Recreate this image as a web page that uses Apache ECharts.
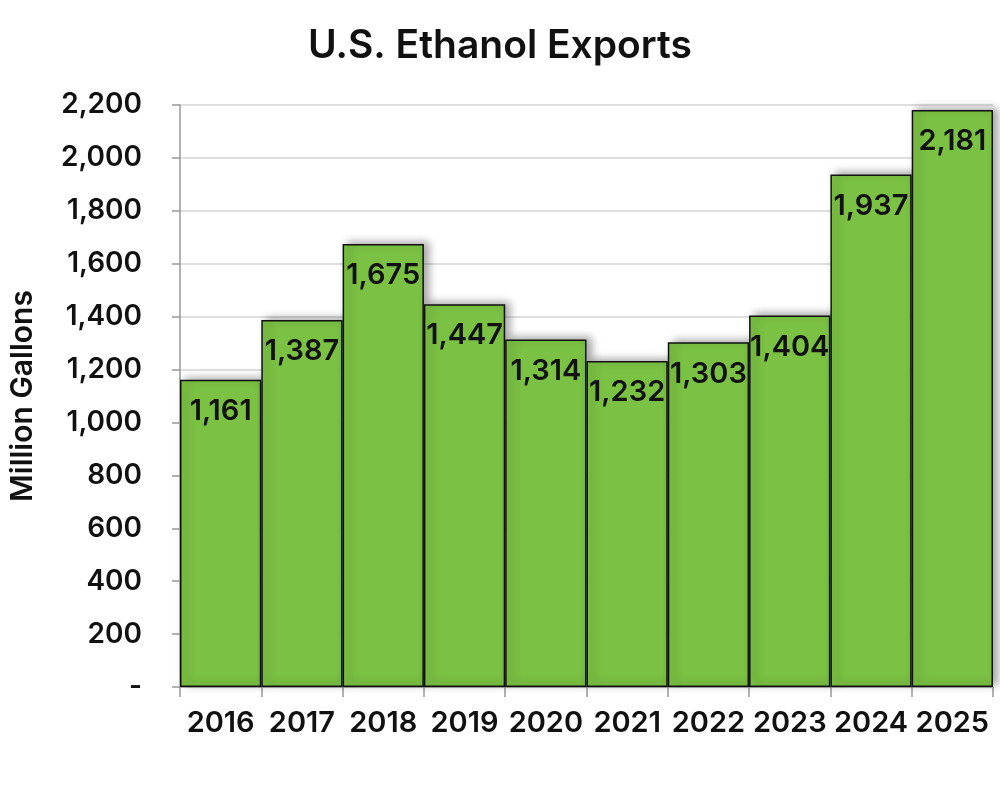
<!DOCTYPE html>
<html>
<head>
<meta charset="utf-8">
<script src="https://cdn.jsdelivr.net/npm/echarts@6/dist/echarts.min.js"></script>
<style>
  html, body { margin: 0; padding: 0; background: #fff; }
  #main { width: 1000px; height: 800px; }
</style>
</head>
<body>
<div id="main"></div>
<script>
var years = ['2016', '2017', '2018', '2019', '2020', '2021', '2022', '2023', '2024', '2025'];
var exports = [1161, 1387, 1675, 1447, 1314, 1232, 1303, 1404, 1937, 2181];
var yMax = 2200;
var yStep = 200;

function fmt(v) {
  if (v === 0) return '-';
  return String(v).replace(/\B(?=(\d{3})+(?!\d))/g, ',');
}

var chart = echarts.init(document.getElementById('main'));
var option = {
  backgroundColor: '#fff',
  textStyle: { fontFamily: 'Inter' },
  title: {
    text: 'U.S. Ethanol Exports',
    left: 'center',
    top: 22,
    textStyle: { fontFamily: 'Inter', fontSize: 39, fontWeight: 600, color: '#111' }
  },
  grid: { left: 180, right: 7, top: 105, bottom: 113, containLabel: false, outerBoundsMode: 'none' },
  xAxis: {
    type: 'category',
    data: years,
    axisLine: { lineStyle: { color: '#999', width: 1.5 } },
    axisTick: { show: true, length: 10, lineStyle: { color: '#999', width: 1.5 } },
    axisLabel: { color: '#111', fontSize: 29, fontWeight: 600, margin: 22, interval: 0, hideOverlap: false }
  },
  yAxis: {
    type: 'value',
    min: 0,
    max: yMax,
    interval: yStep,
    name: 'Million Gallons',
    nameLocation: 'middle',
    nameGap: 142,
    nameMoveOverlap: false,
    nameTextStyle: { color: '#111', fontSize: 30, fontWeight: 600 },
    axisLine: { show: true, lineStyle: { color: '#999', width: 1.5 } },
    axisTick: { show: true, length: 8, lineStyle: { color: '#999', width: 1.5 } },
    axisLabel: { color: '#111', fontSize: 28, fontWeight: 600, margin: 38, formatter: fmt },
    splitLine: { lineStyle: { color: '#d4d4d4', width: 1.5 } }
  },
  series: [{
    type: 'bar',
    data: exports,
    barWidth: '100%',
    itemStyle: {
      color: '#7bc143',
      borderColor: '#111',
      borderWidth: 1.5,
      shadowColor: 'rgba(0,0,0,0.35)',
      shadowBlur: 8,
      shadowOffsetX: 5,
      shadowOffsetY: -2
    },
    label: {
      show: true,
      position: 'insideTop',
      distance: 17,
      color: '#111',
      fontSize: 29,
      fontWeight: 600,
      formatter: function (p) { return fmt(p.value); }
    }
  }]
};
chart.setOption(option);
</script>
</body>
</html>
